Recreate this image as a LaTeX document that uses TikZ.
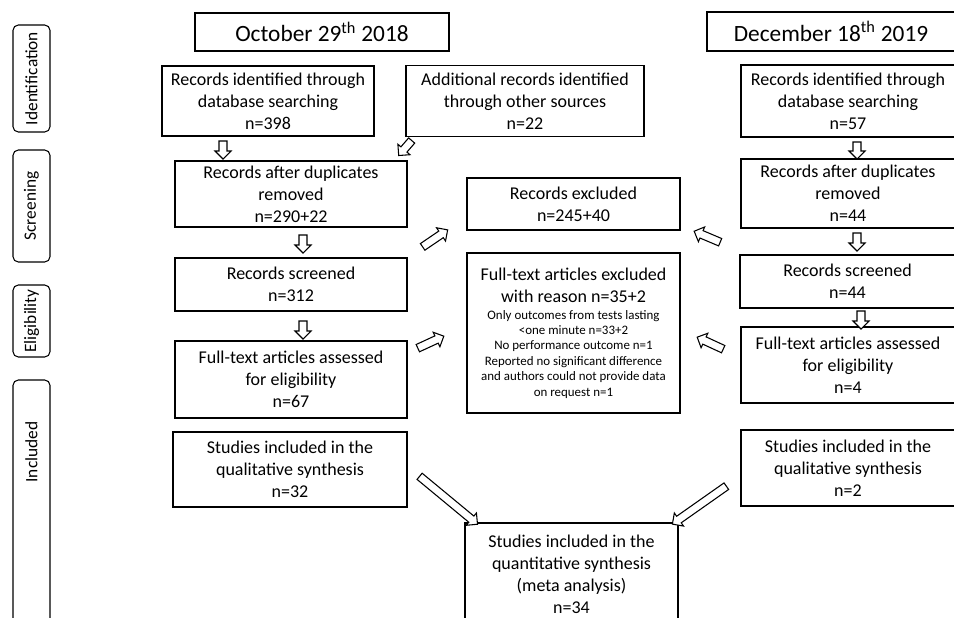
\documentclass[tikz,border=0pt]{standalone}
\usepackage{fontspec}
\setmainfont{Carlito}
\usetikzlibrary{shapes.arrows,calc}

\newcommand{\sm}{\fontsize{9.7}{11.6}\selectfont}
% hollow block arrow between two named points
\newcommand{\barr}[3][3pt]{%
  \path let \p1=(#2), \p2=(#3), \n1={veclen(\x2-\x1,\y2-\y1)} in
    (\p1) -- node[barrow=#1, minimum height=\n1] {} (\p2);}

\begin{document}
\begin{tikzpicture}[x=0.75pt, y=-0.75pt,
        box/.style={rectangle, draw, line width=1pt, align=center, inner sep=2pt, font=\fontsize{13.5}{16.5}\selectfont},
        wh/.style 2 args={minimum width=#1*0.75pt, minimum height=#2*0.75pt},
        datebox/.style={box, font=\fontsize{17.5}{21}\selectfont},
        phase/.style={rectangle, draw, rounded corners=4pt, rotate=90, line width=0.8pt, inner sep=0pt, font=\fontsize{13}{15}\selectfont},
        barrow/.style={single arrow, draw, fill=white, line width=0.8pt, inner xsep=0pt, inner ysep=2.6pt,
            single arrow head extend=#1, single arrow tip angle=90, single arrow head indent=0pt,
            sloped, allow upside down}
    ]
    \useasboundingbox (0,0) rectangle (954,618);

    % phases
    \node[phase, wh={107}{37}] (ident) at (31.5,78.5) {Identification};
    \node[phase, wh={112}{37}] (screen) at (31.5,206) {Screening};
    \node[phase, wh={72}{37}] (elig) at (31.5,321) {Eligibility};
    \draw[line width=0.8pt, rounded corners=4pt] (13,640) -- (13,380) -- (50,380) -- (50,640);
    \node[rotate=90, font=\fontsize{13}{15}\selectfont] (incl) at (31.5,452) {Included};

    % dates
    \node[datebox, wh={254}{38}] (oct) at (322,32) {October 29\textsuperscript{th} 2018};
    \node[datebox, wh={248}{39}] (dec) at (831,31.5) {December 18\textsuperscript{th} 2019};

    % first search
    \node[box, wh={212}{70}] (recL) at (268,101) {Records identified through\\database searching\\n=398};
    \node[box, wh={238}{71}] (add) at (525,101) {Additional records identified\\through other sources\\n=22};
    \node[box, wh={232}{66}] (dupL) at (291,194) {Records after duplicates\\removed\\n=290+22};
    \node[box, wh={232}{53}] (scrL) at (291,284.5) {Records screened\\n=312};
    \node[box, wh={232}{77}] (ftL) at (291,379.5) {Full-text articles assessed\\for eligibility\\n=67};
    \node[box, wh={234}{75}] (studL) at (290,469.5) {Studies included in the\\qualitative synthesis\\n=32};

    % update search
    \node[box, wh={214}{72}] (recR) at (848,101) {Records identified through\\database searching\\n=57};
    \node[box, wh={214}{69}] (dupR) at (848,193.5) {Records after duplicates\\removed\\n=44};
    \node[box, wh={215}{53}] (scrR) at (847.5,281.5) {Records screened\\n=44};
    \node[box, wh={214}{76}] (ftR) at (848,365) {Full-text articles assessed\\for eligibility\\n=4};
    \node[box, wh={214}{76}] (studR) at (848,468) {Studies included in the\\qualitative synthesis\\n=2};

    % middle
    \node[box, wh={213}{52}] (excl) at (573.5,204) {Records excluded\\n=245+40};
    \node[box, wh={213}{160}] (ftex) at (573.5,333) {Full-text articles excluded\\with reason n=35+2\\[-3.8pt]
        \sm Only outcomes from tests lasting\\[-4.9pt]\sm <one minute n=33+2\\[-4.9pt]\sm No performance outcome n=1\\[-4.9pt]
        \sm Reported no significant difference\\[-4.9pt]\sm and authors could not provide data\\[-4.9pt]\sm on request n=1};
    \node[box, wh={213}{102}] (quant) at (571.5,574) {Studies included in the\\quantitative synthesis\\(meta analysis)\\n=34};

    % arrow ends
    \coordinate (t1) at (223,139);   \coordinate (h1) at (223,157);
    \coordinate (t2) at (413,139);   \coordinate (h2) at (400,154);
    \coordinate (t3) at (303,233);   \coordinate (h3) at (303,251);
    \coordinate (t4) at (303,319);   \coordinate (h4) at (303,337);
    \coordinate (t5) at (421,248);   \coordinate (h5) at (446,231);
    \coordinate (t6) at (416,349);   \coordinate (h6) at (442,337);
    \coordinate (t7) at (722,243);   \coordinate (h7) at (696,232);
    \coordinate (t8) at (725,350);   \coordinate (h8) at (699,338);
    \coordinate (t9) at (857,140);   \coordinate (h9) at (857,157);
    \coordinate (t10) at (857,231);  \coordinate (h10) at (857,249);
    \coordinate (t11) at (861,309);  \coordinate (h11) at (861,327);
    \coordinate (t12) at (418,475);  \coordinate (h12) at (476,523);
    \coordinate (t13) at (728,485);  \coordinate (h13) at (674,523);

    \barr{t1}{h1}
    \barr{t2}{h2}
    \barr{t3}{h3}
    \barr{t4}{h4}
    \barr{t5}{h5}
    \barr{t6}{h6}
    \barr{t7}{h7}
    \barr{t8}{h8}
    \barr{t9}{h9}
    \barr{t10}{h10}
    \barr{t11}{h11}
    \barr{t12}{h12}
    \barr{t13}{h13}
\end{tikzpicture}
\end{document}
